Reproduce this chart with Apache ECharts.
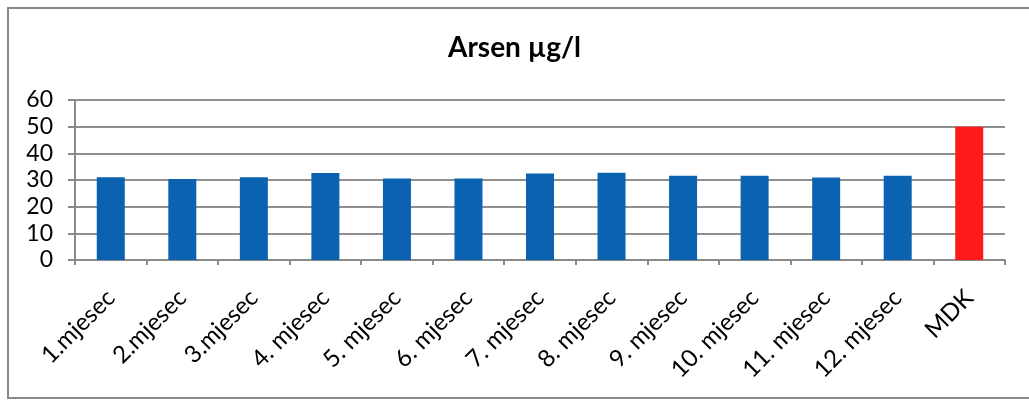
<!DOCTYPE html>
<html>
<head>
<meta charset="utf-8">
<script src="https://cdn.jsdelivr.net/npm/echarts@6/dist/echarts.min.js"></script>
<style>
  html, body { margin: 0; padding: 0; background: #fff; }
  #chart { width: 1029px; height: 400px; }
</style>
</head>
<body>
<div id="chart"></div>
<script>
// Monthly arsenic concentration vs. the maximum allowed concentration (MDK)
const categories = ['1.mjesec', '2.mjesec', '3.mjesec', '4. mjesec', '5. mjesec', '6. mjesec',
                    '7. mjesec', '8. mjesec', '9. mjesec', '10. mjesec', '11. mjesec', '12. mjesec', 'MDK'];
const arsenValues = [31.0, 30.4, 31.0, 32.6, 30.6, 30.6, 32.4, 32.7, 31.6, 31.6, 30.9, 31.6, 50];
const yTicks = [0, 10, 20, 30, 40, 50, 60];

const FONT = 'Lato, "Open Sans", sans-serif';
const chart = echarts.init(document.getElementById('chart'));

chart.setOption({
  animation: false,
  backgroundColor: '#ffffff',
  title: {
    text: 'Arsen µg/l',
    left: 'center',
    top: 29,
    textStyle: { fontFamily: FONT, fontWeight: 'bold', fontSize: 28, color: '#000' }
  },
  graphic: [{
    type: 'rect',
    shape: { x: 8, y: 8, width: 1060, height: 390 },
    style: { fill: 'none', stroke: '#8a8a8a', lineWidth: 2 },
    silent: true
  }],
  grid: { left: 75, right: 24, top: 100, bottom: 140, containLabel: false },
  xAxis: {
    type: 'category',
    data: categories,
    axisLine: { lineStyle: { color: '#8a8a8a', width: 2 } },
    axisTick: { show: true, length: 5, lineStyle: { color: '#8a8a8a', width: 2 } },
    axisLabel: {
      rotate: 45,
      interval: 0,
      margin: 34,
      fontFamily: FONT,
      fontSize: 24,
      color: '#000'
    }
  },
  yAxis: {
    type: 'value',
    min: yTicks[0],
    max: yTicks[yTicks.length - 1],
    interval: 10,
    axisLine: { show: true, lineStyle: { color: '#8a8a8a', width: 2 } },
    axisTick: { show: true, length: 7, lineStyle: { color: '#8a8a8a', width: 2 } },
    splitLine: { show: true, lineStyle: { color: '#8f8f8f', width: 2 } },
    axisLabel: { fontFamily: FONT, fontSize: 23, color: '#000', margin: 22 }
  },
  series: [{
    type: 'bar',
    data: arsenValues,
    barWidth: 28,
    itemStyle: {
      color: (p) => categories[p.dataIndex] === 'MDK' ? '#ff1a1a' : '#0a62b0'
    }
  }]
});
</script>
</body>
</html>
